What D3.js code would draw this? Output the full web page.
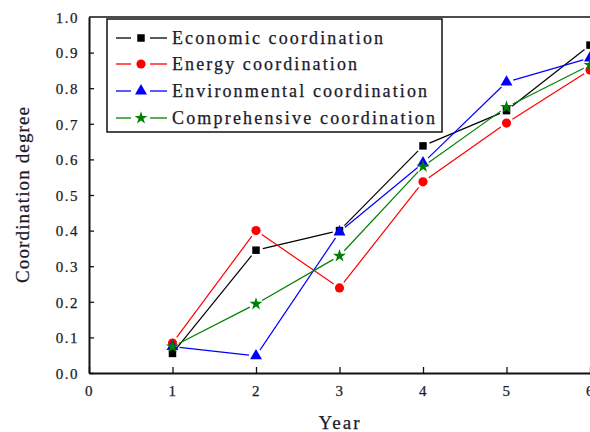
<!DOCTYPE html>
<html><head><meta charset="utf-8">
<script src="https://cdn.jsdelivr.net/npm/d3@7/dist/d3.min.js"></script>
<style>
html,body{margin:0;padding:0;background:#fff;}
svg{display:block;}
</style></head>
<body>
<svg id="chart" width="590" height="432"></svg>
<script>
const years = [1, 2, 3, 4, 5, 6];
const economic = [0.055, 0.345, 0.400, 0.638, 0.737, 0.921];
const energy = [0.084, 0.400, 0.239, 0.537, 0.702, 0.851];
const environmental = [0.074, 0.048, 0.396, 0.590, 0.817, 0.885];
const comprehensive = [0.074, 0.194, 0.329, 0.580, 0.747, 0.865];
const seriesNames = ["Economic coordination", "Energy coordination", "Environmental coordination", "Comprehensive coordination"];
const xTicks = [0, 1, 2, 3, 4, 5, 6];
const yTicks = [0.0, 0.1, 0.2, 0.3, 0.4, 0.5, 0.6, 0.7, 0.8, 0.9, 1.0];

const series = [
  {name: seriesNames[0], values: economic, color: "#000000", marker: "square", legendW: 211},
  {name: seriesNames[1], values: energy, color: "#ff0000", marker: "circle", legendW: 185},
  {name: seriesNames[2], values: environmental, color: "#0000ff", marker: "triangle", legendW: 255},
  {name: seriesNames[3], values: comprehensive, color: "#008000", marker: "star", legendW: 263}
];

const svg = d3.select("#chart");
const x = d3.scaleLinear().domain([0, 6]).range([89, 590]);
const y = d3.scaleLinear().domain([0, 1]).range([373, 17]);
const font = "'Liberation Serif','Times New Roman',serif";
const txt = "#1a1a2a";

function symbolFor(m) {
  if (m === "square") return d3.symbol().type(d3.symbolSquare).size(56);
  if (m === "circle") return d3.symbol().type(d3.symbolCircle).size(66);
  if (m === "triangle") return d3.symbol().type(d3.symbolTriangle).size(62);
  return d3.symbol().type(d3.symbolStar).size(52);
}

// frame (top)
svg.append("line").attr("x1", x(0)).attr("x2", 592).attr("y1", y(1)).attr("y2", y(1))
  .attr("stroke", "#111").attr("stroke-width", 1.6);

// axes
const yAxis = d3.axisLeft(y).tickValues(yTicks).tickFormat(d3.format(".1f")).tickSizeInner(-5).tickSizeOuter(0).tickPadding(10);
const gy = svg.append("g").attr("transform", `translate(${x(0)},0)`).call(yAxis);
const xAxis = d3.axisBottom(x).tickValues(xTicks).tickFormat(d3.format("d")).tickSizeInner(-6).tickSizeOuter(0).tickPadding(12);
const gx = svg.append("g").attr("transform", `translate(0,${y(0)})`).call(xAxis);
[gx, gy].forEach(g => {
  g.select(".domain").attr("stroke", "#111").attr("stroke-width", 2);
  g.selectAll(".tick line").attr("stroke", "#111").attr("stroke-width", 1.3);
  g.selectAll(".tick text").attr("font-family", font).attr("font-size", 15)
    .attr("fill", txt).attr("stroke", txt).attr("stroke-width", 0.25).attr("letter-spacing", "1.5px");
});
gy.selectAll(".tick text").attr("dy", "0.35em");
gy.select(".tick:last-of-type line").remove();

// axis titles
svg.append("text").attr("x", 340).attr("y", 429).attr("text-anchor", "middle")
  .attr("font-family", font).attr("font-size", 19).attr("letter-spacing", "2px")
  .attr("fill", txt).attr("stroke", txt).attr("stroke-width", 0.25).text("Year");
svg.append("text").attr("transform", "translate(29,195) rotate(-90)").attr("text-anchor", "middle")
  .attr("font-family", font).attr("font-size", 19).attr("textLength", 176).attr("lengthAdjust", "spacing")
  .attr("fill", txt).attr("stroke", txt).attr("stroke-width", 0.25).text("Coordination degree");

// series lines with gaps near markers
const gap = 7;
series.forEach(s => {
  const pts = years.map((yr, i) => [x(yr), y(s.values[i])]);
  const g = svg.append("g");
  for (let i = 0; i < pts.length - 1; i++) {
    const [x1, y1] = pts[i], [x2, y2] = pts[i + 1];
    const dx = x2 - x1, dy = y2 - y1, L = Math.hypot(dx, dy);
    const ux = dx / L, uy = dy / L;
    g.append("line")
      .attr("x1", x1 + ux * gap).attr("y1", y1 + uy * gap)
      .attr("x2", x2 - ux * gap).attr("y2", y2 - uy * gap)
      .attr("stroke", s.color).attr("stroke-width", 1.2);
  }
});
series.forEach(s => {
  svg.append("g").selectAll("path").data(years).join("path")
    .attr("transform", (d, i) => `translate(${x(d)},${y(s.values[i])})`)
    .attr("d", symbolFor(s.marker)()).attr("fill", s.color);
});

// legend
const lg = svg.append("g");
lg.append("rect").attr("x", 107).attr("y", 19).attr("width", 335).attr("height", 113)
  .attr("fill", "#fff").attr("stroke", "#111").attr("stroke-width", 1.5);
const rowY = [38, 64, 91, 118];
series.forEach((s, i) => {
  const yy = rowY[i];
  lg.append("line").attr("x1", 116).attr("x2", 131).attr("y1", yy).attr("y2", yy).attr("stroke", s.color).attr("stroke-width", 1.3);
  lg.append("line").attr("x1", 150).attr("x2", 167).attr("y1", yy).attr("y2", yy).attr("stroke", s.color).attr("stroke-width", 1.3);
  lg.append("path").attr("transform", `translate(141,${yy})`).attr("d", symbolFor(s.marker)()).attr("fill", s.color);
  lg.append("text").attr("x", 172).attr("y", yy + 6).attr("font-family", font).attr("font-size", 18)
    .attr("fill", txt).attr("stroke", txt).attr("stroke-width", 0.25)
    .attr("textLength", s.legendW).attr("lengthAdjust", "spacing").text(s.name);
});
</script>
</body></html>
